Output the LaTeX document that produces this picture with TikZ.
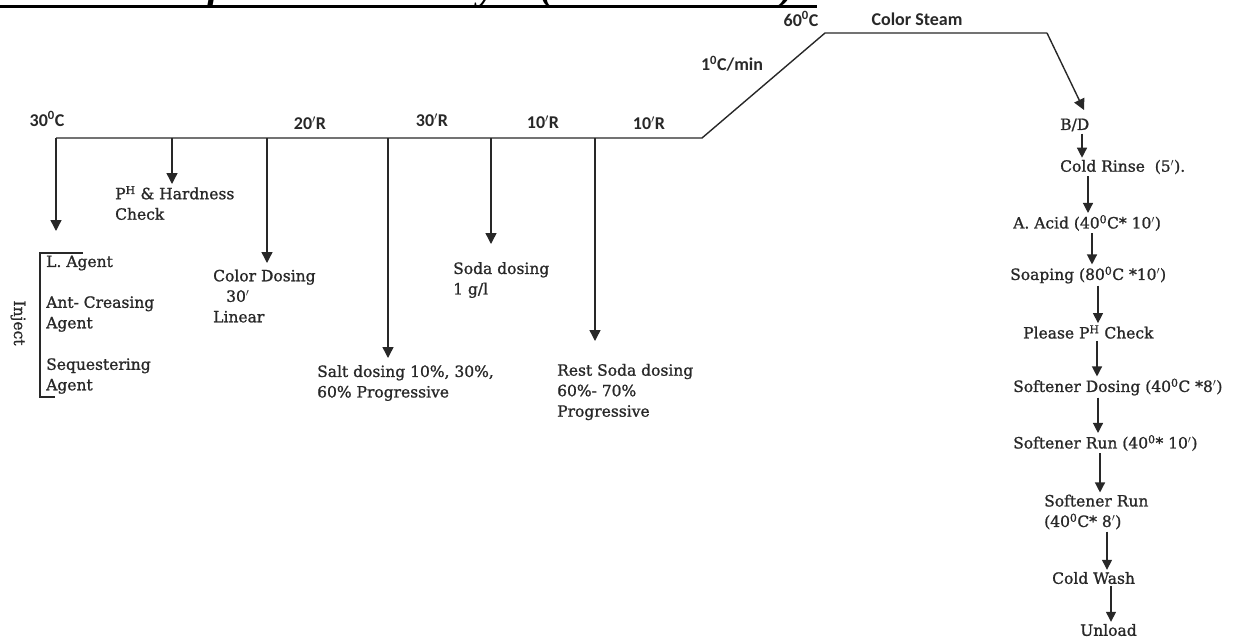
\documentclass[tikz,border=0pt]{standalone}
\usepackage{fontspec}
\setmainfont{DejaVu Serif}[FakeBold=1.2]
\newfontfamily\labelfont{Carlito}
\newfontfamily\titlefont{Liberation Serif}
\usetikzlibrary{positioning}
\usetikzlibrary{arrows.meta}
\definecolor{ink}{RGB}{40,40,40}

\tikzset{
  curve/.style={draw=ink, line width=1.4pt},
  drop/.style={draw=ink, line width=1.4pt, -{Triangle[length=11pt,width=11pt]}},
  flow/.style={draw=ink, line width=1.3pt, -{Triangle[length=10pt,width=10pt]}},
  note/.style={text=ink, font=\fontsize{15.5}{20.5}\selectfont, align=left, inner sep=2pt, anchor=west},
  templabel/.style={text=ink, font=\labelfont\bfseries\fontsize{18}{20}\selectfont, inner sep=0pt},
}

\begin{document}
\begin{tikzpicture}[x=1pt, y=-1pt]
    \useasboundingbox (0,0) rectangle (1247,638);
    \clip (0,0) rectangle (1247,638);

    % Title (cut at the top edge)
    \node[anchor=base east, inner sep=0pt, font=\titlefont\bfseries\itshape\fontsize{40}{40}\selectfont] (title) at (808,-1) {Process curve for Drimarine Dyes (Critical Color):};
    \draw[line width=3.5pt] ([yshift=-7.5pt,xshift=-20pt]title.base west) -- ([yshift=-7.5pt,xshift=9pt]title.base east);

    % Temperature curve
    \coordinate (start) at (56,138);
    \coordinate (rampfoot) at (702,138);
    \coordinate (ramptop) at (825,33);
    \coordinate (steamend) at (1047,33);
    \coordinate (bdtip) at (1084,110);
    \draw[curve] (start) -- (rampfoot) -- (ramptop) -- (steamend);
    \draw[drop] (steamend) -- (bdtip);

    % Labels on the curve
    \node[templabel] (t30) at (47,119) {30\textsuperscript{0}C};
    \node[templabel] (r20) at (310,123) {20$'$R};
    \node[templabel] (r30) at (432,120) {30$'$R};
    \node[templabel] (r10a) at (543,122) {10$'$R};
    \node[templabel] (r10b) at (649,123) {10$'$R};
    \node[templabel] (rate) at (732,64) {1\textsuperscript{0}C/min};
    \node[templabel] (t60) at (801,19) {60\textsuperscript{0}C};
    \node[templabel] (steam) at (917,19) {Color Steam};

    % Drops from the 30C line
    \foreach \x/\y [count=\i] in {56/231, 172/184, 267/263, 388/358, 491/244, 595/341} {
        \coordinate (top\i) at (\x,138);
        \coordinate (tip\i) at (\x,\y);
        \draw[drop] (top\i) -- (tip\i);
    }

    % Inject block
    \node[note] (lagent) at (44,263) {L. Agent};
    \node[note] (crease) at (44,314) {Ant- Creasing\\Agent};
    \node[note] (seq) at (44,376) {Sequestering\\Agent};
    \draw[ink, line width=1.2pt] (83,253) -- (40,253) -- (40,397) -- (55,397);
    \node[note, anchor=center, rotate=-90] (inject) at (18,323) {Inject};

    % Dosing notes
    \node[note] (phcheck) at (113,203) {P\textsuperscript{H} \& Hardness\\Check};
    \node[note] (colordose) at (211,296) {Color Dosing\\\hspace*{13pt}30$'$\\Linear};
    \node[note] (salt) at (315,383) {Salt dosing 10\%, 30\%,\\60\% Progressive};
    \node[note] (soda) at (451,280) {Soda dosing\\1 g/l};
    \node[note] (restsoda) at (555,392) {Rest Soda dosing\\60\%- 70\%\\Progressive};

    % After-treatment sequence
    \node[note] (bd) at (1058,125) {B/D};
    \node[note] (rinse) at (1058,167) {Cold Rinse\ \ (5$'$).};
    \node[note] (acid) at (1011,223) {A. Acid (40\textsuperscript{0}C* 10$'$)};
    \node[note] (soap) at (1008,275) {Soaping (80\textsuperscript{0}C *10$'$)};
    \node[note] (phtest) at (1021,332) {Please P\textsuperscript{H} Check};
    \node[note] (softdose) at (1011,387) {Softener Dosing (40\textsuperscript{0}C *8$'$)};
    \node[note] (softrun) at (1011,443) {Softener Run (40\textsuperscript{0}* 10$'$)};
    \node[note] (softrun2) at (1042,512) {Softener Run\\(40\textsuperscript{0}C* 8$'$)};
    \node[note] (coldwash) at (1050,578) {Cold Wash};
    \node[note] (unload) at (1078,630) {Unload};

    \draw[flow] ([xshift=24pt]bd.south west) -- ([xshift=24pt]bd.south west |- rinse.north);
    \draw[flow] ([xshift=30pt]rinse.south west) -- ([xshift=30pt]rinse.south west |- acid.north);
    \draw[flow] ([xshift=81pt]acid.south west) -- ([xshift=81pt]acid.south west |- soap.north);
    \draw[flow] ([xshift=90pt]soap.south west) -- ([xshift=90pt]soap.south west |- phtest.north);
    \draw[flow] ([xshift=76pt]phtest.south west) -- ([xshift=76pt]phtest.south west |- softdose.north);
    \draw[flow] ([xshift=87pt]softdose.south west) -- ([xshift=87pt]softdose.south west |- softrun.north);
    \draw[flow] ([xshift=89pt]softrun.south west) -- ([xshift=89pt]softrun.south west |- softrun2.north);
    \draw[flow] ([xshift=65pt]softrun2.south west) -- ([xshift=65pt]softrun2.south west |- coldwash.north);
    \draw[flow] ([xshift=61pt]coldwash.south west) -- ([xshift=61pt]coldwash.south west |- unload.north);
\end{tikzpicture}
\end{document}
